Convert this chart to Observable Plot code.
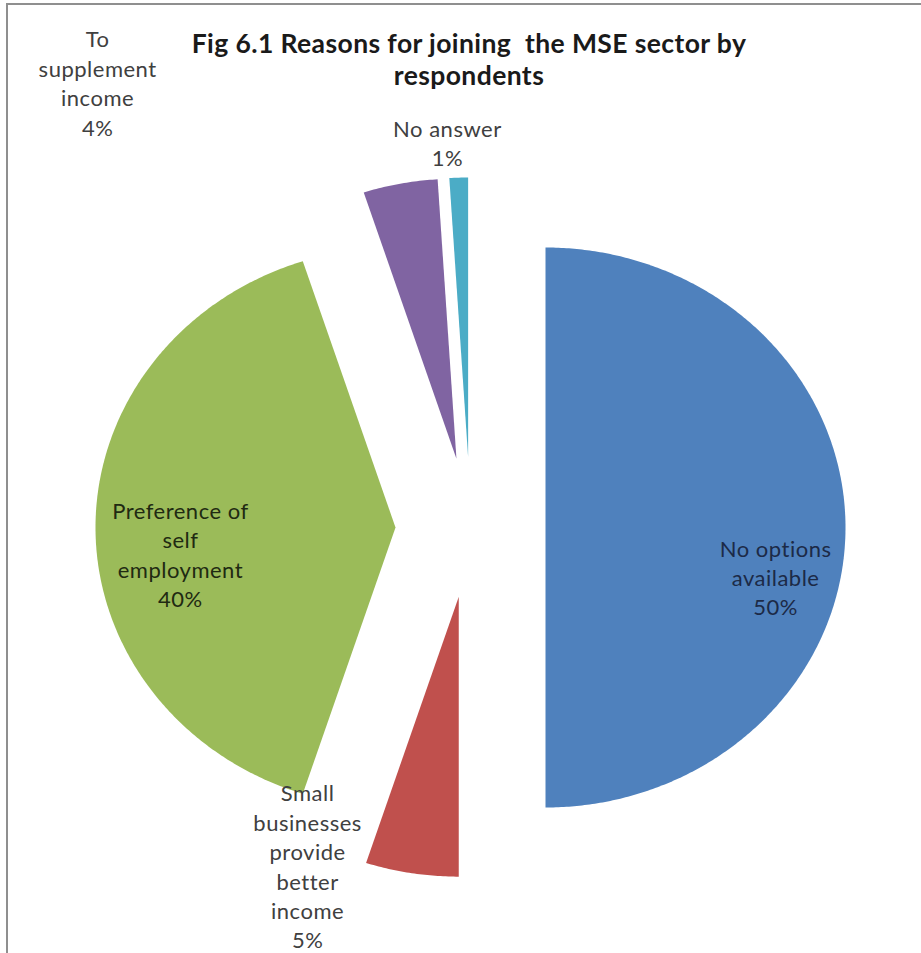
<!DOCTYPE html>
<html>
<head>
<meta charset="utf-8">
<script src="https://cdn.jsdelivr.net/npm/d3@7"></script>
<script src="https://cdn.jsdelivr.net/npm/@observablehq/plot@0.6"></script>
<style>
  html, body { margin: 0; padding: 0; background: #fff; }
  #wrap { position: relative; width: 921px; height: 953px; overflow: hidden; }
  #frame { position: absolute; left: 6px; top: 3px; width: 915px; height: 950px;
           border-left: 2px solid #8f8f8f; border-top: 2px solid #8f8f8f; box-sizing: border-box; }
  #title { position: absolute; left: 0; top: 27px; width: 938px; text-align: center;
           font-family: Lato, "Open Sans", sans-serif; font-weight: bold; font-size: 26.5px;
           letter-spacing: 0.4px; line-height: 32px; color: #1a1a1a; }
  #chart { position: absolute; left: 0; top: 0; }
  #chart text { letter-spacing: 0.5px; }
</style>
</head>
<body>
<div id="wrap">
  <div id="chart"></div>
  <div id="frame"></div>
  <div id="title">Fig 6.1 Reasons for joining &nbsp;the MSE sector by<br>respondents</div>
</div>
<script>
// ---- data ----
const categories = ["No options available", "Small businesses provide better income", "Preference of self employment", "To supplement income", "No answer"];
const percents = [50, 5, 40, 4, 1];
const labelLines = [
  ["No options", "available"],
  ["Small", "businesses", "provide", "better", "income"],
  ["Preference of", "self", "employment"],
  ["To", "supplement", "income"],
  ["No answer"]
];

// ---- layout / style ----
const colors = ["#4F81BD", "#C0504D", "#9BBB59", "#8064A2", "#4BACC6"];
const W = 921, H = 953;
const cx = 470, cy = 527, Rx = 300, Ry = 280, explode = 0.25;
// label block centers in radius units relative to pie center
const labelPlace = [
  {lx: 1.017, ly: 0.175, color: "#1c2a47"},
  {lx: -0.543, ly: 1.207, color: "#404040"},
  {lx: -0.967, ly: 0.093, color: "#1f2a12"},
  {lx: -1.243, ly: -1.591, color: "#404040"},
  {lx: -0.077, ly: -1.377, color: "#404040"}
];

const arcs = d3.pie().sort(null).startAngle(0).endAngle(2 * Math.PI)(percents);

const pts = [];
arcs.forEach((a, i) => {
  const mid = (a.startAngle + a.endAngle) / 2;
  const ox = cx + explode * Rx * Math.sin(mid);
  const oy = cy - explode * Ry * Math.cos(mid);
  pts.push({name: categories[i], x: ox, y: oy});
  const n = Math.max(2, Math.ceil((a.endAngle - a.startAngle) / (Math.PI / 360)));
  for (let k = 0; k <= n; k++) {
    const t = a.startAngle + (a.endAngle - a.startAngle) * k / n;
    pts.push({name: categories[i], x: ox + Rx * Math.sin(t), y: oy - Ry * Math.cos(t)});
  }
  pts.push({name: categories[i], x: ox, y: oy});
});

const labels = categories.map((c, i) => ({
  name: c,
  text: [...labelLines[i], percents[i] + "%"].join("\n"),
  x: cx + labelPlace[i].lx * Rx,
  y: cy + labelPlace[i].ly * Ry,
  color: labelPlace[i].color
}));

const chart = Plot.plot({
  width: W, height: H, margin: 0,
  x: {domain: [0, W], range: [0, W], axis: null},
  y: {domain: [0, H], range: [0, H], axis: null},
  color: {domain: categories, range: colors},
  marks: [
    Plot.line(pts, {x: "x", y: "y", z: "name", fill: "name", stroke: "none", curve: "linear"}),
    Plot.text(labels, {x: "x", y: "y", text: "text", fill: d => d.color, fontSize: 22,
      fontFamily: "Lato, 'Open Sans', sans-serif", lineHeight: 1.336, lineAnchor: "middle", textAnchor: "middle"})
  ]
});
document.getElementById("chart").appendChild(chart);
</script>
</body>
</html>
